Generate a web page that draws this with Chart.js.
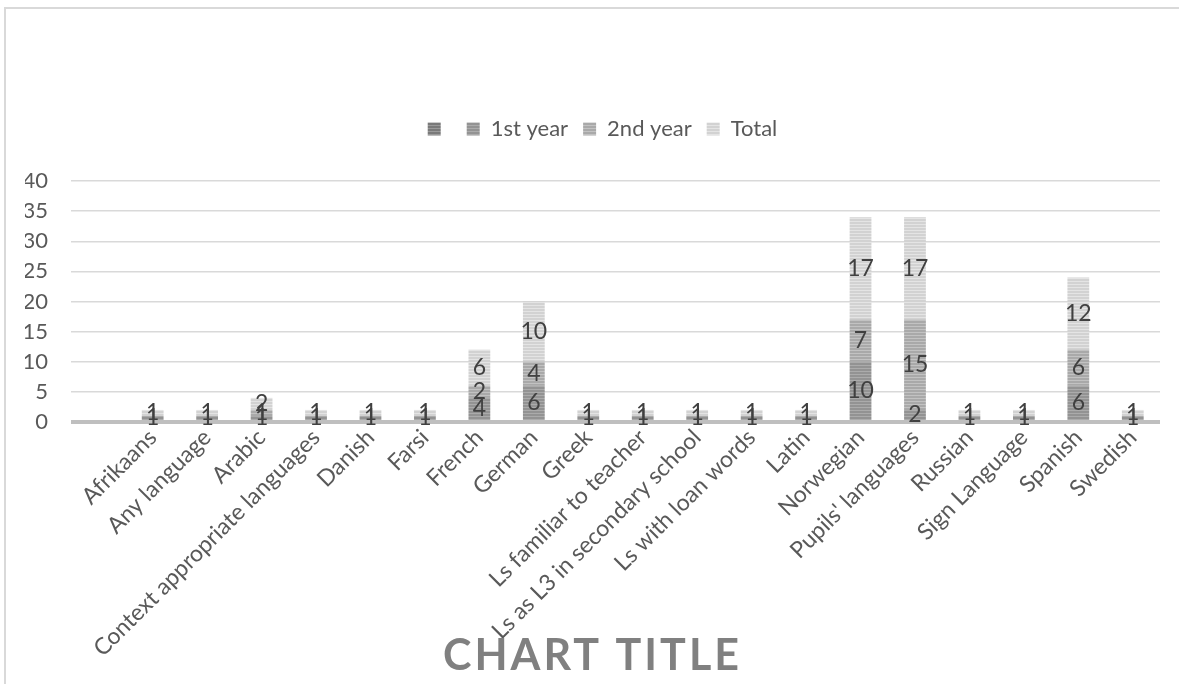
<html lang="en">
<head>
    <meta charset="UTF-8">
    <title>Chart Title</title>
    <script src="https://cdn.jsdelivr.net/npm/chart.js"></script>
    <style>
        body { margin: 0; background: #fff; }
        #wrap { position: relative; width: 1179px; height: 684px; }
        #frame { position: absolute; left: 4px; top: 7px; right: 0; bottom: 0;
                 border-left: 2px solid #d9d9d9; border-top: 2px solid #d9d9d9; pointer-events: none; }
    </style>
</head>
<body>
    <div id="wrap">
        <canvas id="lang-chart"></canvas>
        <div id="frame"></div>
    </div>

    <script>
        // categories (first one is an empty row in the source sheet)
        const categories = ['', 'Afrikaans', 'Any language', 'Arabic', 'Context appropriate languages', 'Danish', 'Farsi',
            'French', 'German', 'Greek', 'Ls familiar to teacher', 'Ls as L3 in secondary school', 'Ls with loan words',
            'Latin', 'Norwegian', "Pupils' languages", 'Russian', 'Sign Language', 'Spanish', 'Swedish'];

        const blankSeries = [null, null, null, null, null, null, null, null, null, null, null, null, null, null, null, null, null, null, null, null];
        const firstYear   = [null, 1, 1, 1, 1, 1, 1, 4, 6, 1, 1, 1, 1, 1, 10, 2, 1, 1, 6, 1];
        const secondYear  = [null, 0, 0, 1, 0, 0, 0, 2, 4, 0, 0, 0, 0, 0, 7, 15, 0, 0, 6, 0];
        const total       = [null, 1, 1, 2, 1, 1, 1, 6, 10, 1, 1, 1, 1, 1, 17, 17, 1, 1, 12, 1];

        const yTicks = [0, 5, 10, 15, 20, 25, 30, 35, 40];

        // striped fill like the office "pattern" fills
        function stripes(base, line) {
            const c = document.createElement('canvas');
            c.width = 4; c.height = 3;
            const g = c.getContext('2d');
            g.fillStyle = base;
            g.fillRect(0, 0, 4, 3);
            g.fillStyle = line;
            g.fillRect(0, 2, 4, 1);
            return g.createPattern(c, 'repeat');
        }

        // value labels in the middle of each segment
        const valueLabels = {
            id: 'valueLabels',
            afterDatasetsDraw(chart) {
                const ctx = chart.ctx;
                ctx.save();
                ctx.font = '23px Lato';
                ctx.fillStyle = '#404040';
                ctx.textAlign = 'center';
                ctx.textBaseline = 'middle';
                chart.data.datasets.forEach((ds, i) => {
                    const meta = chart.getDatasetMeta(i);
                    meta.data.forEach((bar, j) => {
                        const v = ds.data[j];
                        if (!v) return;
                        ctx.fillText(String(v), bar.x, (bar.y + bar.base) / 2);
                    });
                });
                ctx.restore();
            }
        };

        // nudge the legend a little to the right, like the original
        const legendShift = {
            id: 'legendShift',
            afterLayout(chart) {
                if (chart.legend) {
                    chart.legend.left += 10;
                    chart.legend.right += 10;
                }
            }
        };

        // big title under the axis labels
        const bottomTitle = {
            id: 'bottomTitle',
            afterDraw(chart) {
                const ctx = chart.ctx;
                ctx.save();
                ctx.font = 'bold 43px Lato';
                ctx.letterSpacing = '3px';
                ctx.fillStyle = '#808080';
                ctx.textAlign = 'center';
                ctx.textBaseline = 'middle';
                ctx.fillText('CHART TITLE', chart.width / 2 + 3, 656);
                ctx.restore();
            }
        };

        function createChart() {
            const ctx = document.getElementById('lang-chart').getContext('2d');
            new Chart(ctx, {
                type: 'bar',
                data: {
                    labels: categories,
                    datasets: [{
                        label: '',
                        data: blankSeries,
                        backgroundColor: stripes('#7a7a7a', '#9a9a9a')
                    }, {
                        label: '1st year',
                        data: firstYear,
                        backgroundColor: stripes('#939393', '#ababab')
                    }, {
                        label: '2nd year',
                        data: secondYear,
                        backgroundColor: stripes('#a9a9a9', '#c2c2c2')
                    }, {
                        label: 'Total',
                        data: total,
                        backgroundColor: stripes('#d2d2d2', '#e4e4e4')
                    }]
                },
                options: {
                    responsive: true,
                    maintainAspectRatio: false,
                    animation: false,
                    datasets: { bar: { barPercentage: 0.4, categoryPercentage: 1, borderWidth: 0 } },
                    layout: { padding: { top: 103, left: 25, right: 19, bottom: 0 } },
                    scales: {
                        x: {
                            stacked: true,
                            grid: { display: false, drawTicks: false, tickLength: 0 },
                            border: { display: false },
                            afterFit(scale) { scale.height = 262; },
                            ticks: {
                                autoSkip: false,
                                minRotation: 45,
                                maxRotation: 45,
                                padding: 2,
                                color: '#595959',
                                font: { family: 'Lato', size: 23 }
                            }
                        },
                        y: {
                            stacked: true,
                            min: 0,
                            max: 40,
                            afterFit(scale) { scale.width = 46; },
                            afterBuildTicks(scale) { scale.ticks = yTicks.map(v => ({ value: v })); },
                            border: { display: false },
                            grid: {
                                drawTicks: false,
                                color: ctx => ctx.tick && ctx.tick.value === 0 ? '#bfbfbf' : '#d9d9d9',
                                lineWidth: ctx => ctx.tick && ctx.tick.value === 0 ? 4 : 1.5
                            },
                            ticks: {
                                padding: 23,
                                color: '#595959',
                                font: { family: 'Lato', size: 22 }
                            }
                        }
                    },
                    plugins: {
                        legend: {
                            position: 'top',
                            labels: {
                                boxWidth: 13,
                                boxHeight: 13,
                                padding: 15,
                                color: '#595959',
                                font: { family: 'Lato', size: 22 }
                            }
                        },
                        subtitle: {
                            display: true,
                            text: ' ',
                            weight: 500,
                            font: { size: 11, lineHeight: 1 },
                            padding: { top: 10, bottom: 10 }
                        },
                        tooltip: { enabled: false }
                    }
                },
                plugins: [valueLabels, legendShift, bottomTitle]
            });
        }

        createChart();
    </script>
</body>
</html>
